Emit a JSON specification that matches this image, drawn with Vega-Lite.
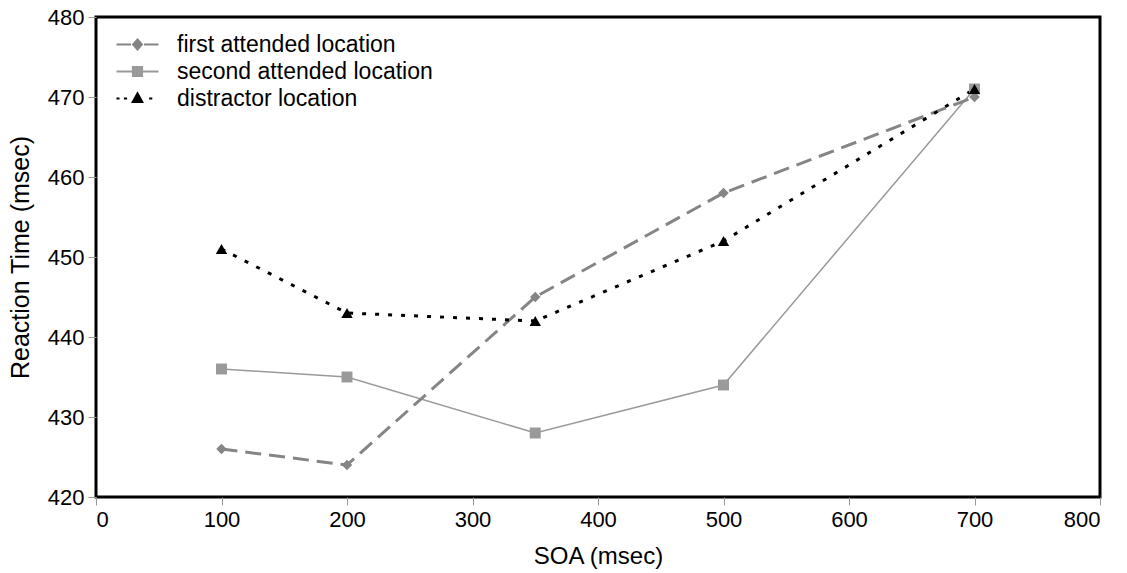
{
  "$schema": "https://vega.github.io/schema/vega-lite/v6.json",
  "autosize": "none",
  "padding": {"left": 96, "top": 17, "right": 27, "bottom": 76},
  "width": 1004,
  "height": 480,
  "background": "white",
  "config": {
    "font": "Liberation Sans",
    "view": {"stroke": "black", "strokeWidth": 3},
    "axis": {
      "grid": false,
      "domain": false,
      "tickColor": "#999999",
      "tickSize": 8,
      "tickWidth": 1,
      "labelFontSize": 22,
      "labelColor": "black",
      "labelPadding": 4,
      "titleFontWeight": "normal",
      "titleColor": "black"
    }
  },
  "data": {
    "values": [
      {"soa": 100, "rt": 426, "series": "first attended location"},
      {"soa": 200, "rt": 424, "series": "first attended location"},
      {"soa": 350, "rt": 445, "series": "first attended location"},
      {"soa": 500, "rt": 458, "series": "first attended location"},
      {"soa": 700, "rt": 470, "series": "first attended location"},
      {"soa": 100, "rt": 436, "series": "second attended location"},
      {"soa": 200, "rt": 435, "series": "second attended location"},
      {"soa": 350, "rt": 428, "series": "second attended location"},
      {"soa": 500, "rt": 434, "series": "second attended location"},
      {"soa": 700, "rt": 471, "series": "second attended location"},
      {"soa": 100, "rt": 451, "series": "distractor location"},
      {"soa": 200, "rt": 443, "series": "distractor location"},
      {"soa": 350, "rt": 442, "series": "distractor location"},
      {"soa": 500, "rt": 452, "series": "distractor location"},
      {"soa": 700, "rt": 471, "series": "distractor location"}
    ]
  },
  "encoding": {
    "x": {"field": "soa", "type": "quantitative", "title": "SOA (msec)",
      "scale": {"domain": [0, 800], "nice": false},
      "axis": {"values": [0, 100, 200, 300, 400, 500, 600, 700, 800], "titlePadding": 14, "titleFontSize": 24}},
    "y": {"field": "rt", "type": "quantitative", "title": "Reaction Time (msec)",
      "scale": {"domain": [420, 480], "nice": false, "zero": false},
      "axis": {"values": [420, 430, 440, 450, 460, 470, 480], "titlePadding": 14, "titleFontSize": 25}}
  },
  "layer": [
    {
      "transform": [{"filter": "datum.series === 'second attended location'"}],
      "mark": {"type": "line", "color": "#9a9a9a", "strokeWidth": 1.5},
      "encoding": {"order": {"field": "soa", "type": "quantitative"}}
    },
    {
      "transform": [{"filter": "datum.series === 'first attended location'"}],
      "mark": {"type": "line", "color": "#858585", "strokeWidth": 3, "strokeDash": [16, 8]},
      "encoding": {"order": {"field": "soa", "type": "quantitative"}}
    },
    {
      "transform": [{"filter": "datum.series === 'distractor location'"}],
      "mark": {"type": "line", "color": "#000000", "strokeWidth": 3, "strokeDash": [4, 9]},
      "encoding": {"order": {"field": "soa", "type": "quantitative"}}
    },
    {
      "transform": [{"filter": "datum.series === 'second attended location'"}],
      "mark": {"type": "point", "filled": true, "opacity": 1, "shape": "square", "size": 120, "color": "#9a9a9a"}
    },
    {
      "transform": [{"filter": "datum.series === 'first attended location'"}],
      "mark": {"type": "point", "filled": true, "opacity": 1, "shape": "diamond", "size": 110, "color": "#858585"}
    },
    {
      "transform": [{"filter": "datum.series === 'distractor location'"}],
      "mark": {"type": "point", "filled": true, "opacity": 1, "shape": "triangle-up", "size": 130, "color": "#000000"}
    },
    {
      "mark": {"type": "point", "filled": true, "opacity": 0, "strokeWidth": 2},
      "encoding": {
        "color": {"field": "series", "type": "nominal",
          "scale": {"domain": ["first attended location", "second attended location", "distractor location"],
            "range": ["#858585", "#9a9a9a", "#000000"]}},
        "stroke": {"field": "series", "type": "nominal",
          "scale": {"domain": ["first attended location", "second attended location", "distractor location"],
            "range": ["#858585", "#9a9a9a", "#000000"]}},
        "shape": {"field": "series", "type": "nominal",
          "scale": {"domain": ["first attended location", "second attended location", "distractor location"],
            "range": [
              "M-5.25,0L-1.6,0M1.6,0L5.25,0M0,-1.25L1.1,0L0,1.25L-1.1,0Z",
              "M-5.25,0L5.25,0M-1.15,-1.15L1.15,-1.15L1.15,1.15L-1.15,1.15Z",
              "M-5.25,0L-4.5,0M-3.4,0L-2.6,0M2.9,0L3.7,0M0,-1.3L1.2,0.9L-1.2,0.9Z"
            ]},
          "legend": {
            "title": null,
            "orient": "none",
            "legendX": 30,
            "legendY": 16,
            "padding": 0,
            "symbolSize": 64,
            "symbolOpacity": 1,
            "symbolStrokeWidth": 2,
            "labelFontSize": 23,
            "labelColor": "black",
            "labelOffset": 28,
            "rowPadding": 3,
            "labelLimit": 400
          }
        }
      }
    }
  ]
}
